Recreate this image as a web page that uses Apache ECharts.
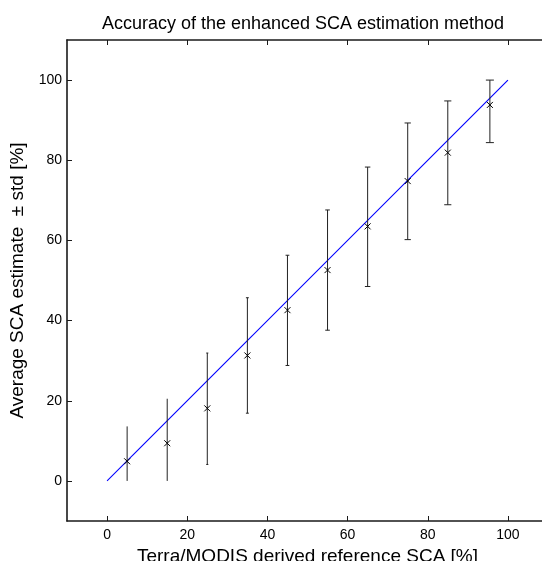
<!DOCTYPE html>
<html>
<head>
<meta charset="utf-8">
<script src="https://cdn.jsdelivr.net/npm/echarts@6/dist/echarts.min.js"></script>
<style>
  html, body { margin: 0; padding: 0; background: #fff; }
  #chart { width: 542px; height: 561px; }
</style>
</head>
<body>
<div id="chart"></div>
<script>
// reference SCA (x), mean estimate and mean +/- std
var refSCA = [5, 15, 25, 35, 45, 55, 65, 75, 85, 95.5];
var meanSCA = [4.9, 9.4, 18.1, 31.3, 42.6, 52.6, 63.5, 74.8, 81.9, 93.8];
var lowerSCA = [0, 0, 4.1, 16.9, 28.8, 37.6, 48.5, 60.2, 68.9, 84.4];
var upperSCA = [13.6, 20.5, 31.9, 45.7, 56.3, 67.6, 78.3, 89.3, 94.8, 100];
var tickValues = [0, 20, 40, 60, 80, 100];
var identityLine = [[0, 0], [100, 100]];

var fontFamily = "'Liberation Sans', Arial, sans-serif";
var axisColor = "#1a1a1a";

var errData = refSCA.map(function (x, i) {
  return [x, meanSCA[i], lowerSCA[i], upperSCA[i]];
});

function renderErr(params, api) {
  var x = api.value(0);
  var m = api.coord([x, api.value(1)]);
  var lo = api.coord([x, api.value(2)]);
  var hi = api.coord([x, api.value(3)]);
  var cap = 4 * x / 95.5; // caps get wider to the right, as in the original
  var s = 3;
  var line = { stroke: "#222", lineWidth: 1 };
  var children = [
    { type: "line", shape: { x1: lo[0], y1: lo[1], x2: hi[0], y2: hi[1] }, style: line },
    { type: "line", shape: { x1: m[0] - s, y1: m[1] - s, x2: m[0] + s, y2: m[1] + s }, style: { stroke: "#000", lineWidth: 1 } },
    { type: "line", shape: { x1: m[0] - s, y1: m[1] + s, x2: m[0] + s, y2: m[1] - s }, style: { stroke: "#000", lineWidth: 1 } }
  ];
  if (cap > 1) {
    children.push({ type: "line", shape: { x1: lo[0] - cap, y1: lo[1], x2: lo[0] + cap, y2: lo[1] }, style: line });
    children.push({ type: "line", shape: { x1: hi[0] - cap, y1: hi[1], x2: hi[0] + cap, y2: hi[1] }, style: line });
  }
  return { type: "group", children: children };
}

function valueAxis(pos, showLabel, margin) {
  return {
    type: "value",
    position: pos,
    min: -10,
    max: 110,
    splitLine: { show: false },
    axisLine: { show: true, onZero: false, lineStyle: { color: axisColor, width: 1.6 } },
    axisTick: { show: true, inside: true, length: 5, customValues: tickValues, lineStyle: { color: axisColor, width: 1 } },
    axisLabel: { show: showLabel, customValues: tickValues, color: "#000", fontSize: 14, fontFamily: fontFamily, margin: margin }
  };
}

var xBottom = valueAxis("bottom", true, 7);
xBottom.name = "Terra/MODIS derived reference SCA [%]";
xBottom.nameLocation = "middle";
xBottom.nameGap = 21;
xBottom.nameTextStyle = { color: "#000", fontSize: 19, fontFamily: fontFamily };

var yLeft = valueAxis("left", true, 5);
yLeft.name = "Average SCA estimate  \u00b1 std [%]";
yLeft.nameLocation = "middle";
yLeft.nameGap = 29;
yLeft.nameTextStyle = { color: "#000", fontSize: 19, fontFamily: fontFamily };

var option = {
  animation: false,
  backgroundColor: "#fff",
  title: {
    text: "Accuracy of the enhanced SCA estimation method",
    left: 298,
    top: 10,
    textAlign: "center",
    textStyle: { color: "#000", fontSize: 18, fontWeight: "normal", fontFamily: fontFamily }
  },
  grid: { left: 67, top: 40, width: 481, height: 481, outerBoundsMode: "none", containLabel: false },
  xAxis: [xBottom, valueAxis("top", false, 7)],
  yAxis: [yLeft, valueAxis("right", false, 5)],
  series: [
    {
      type: "line",
      data: identityLine,
      showSymbol: false,
      itemStyle: { color: "#0000ff" },
      lineStyle: { color: "#0000ff", width: 1.1 },
      z: 2
    },
    {
      type: "custom",
      data: errData,
      renderItem: renderErr,
      encode: { x: 0, y: [1, 2, 3] },
      z: 3
    }
  ]
};

var chart = echarts.init(document.getElementById("chart"));
chart.setOption(option);
</script>
</body>
</html>
